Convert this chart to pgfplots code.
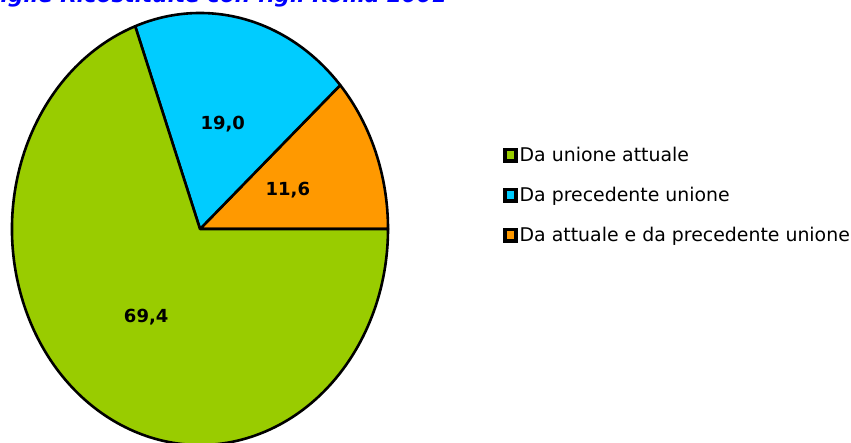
\documentclass[border=0pt]{standalone}
\usepackage{fontspec}
\setmainfont{DejaVu Sans}
\usepackage{pgfplots}
\pgfplotsset{compat=1.18}
\definecolor{sliceGreen}{HTML}{99CC00}
\definecolor{sliceBlue}{HTML}{00CCFF}
\definecolor{sliceOrange}{HTML}{FF9900}
\definecolor{titleBlue}{HTML}{0000FF}

\begin{document}
\begin{tikzpicture}[x=1pt,y=1pt]
\useasboundingbox (0,0) rectangle (851,443);
% title, partly cut by the top edge as in the source
\node[anchor=base east, font=\fontsize{21.5}{24}\selectfont\bfseries\itshape, text=titleBlue, inner sep=0pt]
  at (447,440.5) {Famiglie Ricostituite con figli Roma 2001};
\begin{axis}[
    at={(200pt,214pt)}, anchor=center,
    scale only axis, width=376pt, height=432pt,
    xmin=-1, xmax=1, ymin=-1, ymax=1,
    hide axis, clip=false,
    legend style={at={(1.306,0.579)}, anchor=west, draw=none, fill=none, inner sep=0pt,
                  font=\fontsize{18.9}{22}\selectfont, row sep=20pt,
                  nodes={inner sep=2pt}},
    legend cell align=left,
    /pgf/number format/.cd, fixed, fixed zerofill, precision=1, use comma, assume math mode=true,
  ]
  \addlegendimage{legend image code/.code={\fill[black] (0pt,-7pt) rectangle (14pt,7pt); \fill[sliceGreen] (4pt,-3.5pt) rectangle (10pt,3.5pt);}}
  \addlegendimage{legend image code/.code={\fill[black] (0pt,-7pt) rectangle (14pt,7pt); \fill[sliceBlue] (4pt,-3.5pt) rectangle (10pt,3.5pt);}}
  \addlegendimage{legend image code/.code={\fill[black] (0pt,-7pt) rectangle (14pt,7pt); \fill[sliceOrange] (4pt,-3.5pt) rectangle (10pt,3.5pt);}}
  \legend{Da unione attuale, Da precedente unione, Da attuale e da precedente unione}
  \pgfplotsextra{
    \gdef\angA{0}
    \foreach \v/\c in {11.6/sliceOrange, 19.0/sliceBlue, 69.4/sliceGreen} {
      \pgfmathsetmacro\angB{\angA+3.6*\v}
      \pgfmathsetmacro\mid{(\angA+\angB)/2}
      \filldraw[fill=\c, draw=black, line width=2.6pt, line join=round]
        (axis cs:0,0) -- (axis cs:{cos(\angA)},{sin(\angA)})
        arc[start angle=\angA, end angle=\angB, x radius=188pt, y radius=216pt] -- cycle;
      \node[font=\fontsize{18}{20}\selectfont\bfseries] at (axis cs:{0.5*cos(\mid)},{0.5*sin(\mid)}) {\pgfmathprintnumber{\v}};
      \global\let\angA\angB
    }
  }
\end{axis}
\end{tikzpicture}
\end{document}
